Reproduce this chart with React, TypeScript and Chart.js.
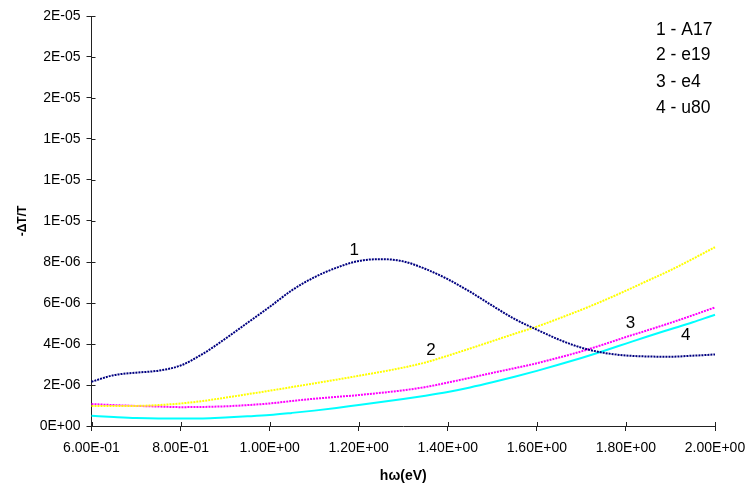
import React, { useEffect, useRef } from "react";
import { Chart, registerables } from "chart.js";

Chart.register(...registerables);

// ---- data ----
const xValues = [
  0.6, 0.65, 0.7, 0.75, 0.8, 0.85, 0.9, 0.95, 1.0, 1.05, 1.1, 1.15, 1.2, 1.25, 1.3,
  1.35, 1.4, 1.45, 1.5, 1.55, 1.6, 1.65, 1.7, 1.75, 1.8, 1.85, 1.9, 1.95, 2.0, 2.013,
];

const seriesA17 = [
  2.16e-6, 2.48e-6, 2.6e-6, 2.7e-6, 2.95e-6, 3.52e-6, 4.25e-6, 5.03e-6, 5.81e-6, 6.62e-6,
  7.25e-6, 7.72e-6, 8.05e-6, 8.14e-6, 8.03e-6, 7.66e-6, 7.16e-6, 6.55e-6, 5.87e-6, 5.22e-6,
  4.7e-6, 4.21e-6, 3.82e-6, 3.57e-6, 3.44e-6, 3.39e-6, 3.38e-6, 3.43e-6, 3.49e-6, 3.51e-6,
];

const seriesE19 = [
  0.97e-6, 0.97e-6, 0.98e-6, 1.02e-6, 1.1e-6, 1.22e-6, 1.38e-6, 1.55e-6, 1.72e-6, 1.9e-6,
  2.08e-6, 2.26e-6, 2.45e-6, 2.64e-6, 2.85e-6, 3.1e-6, 3.43e-6, 3.78e-6, 4.14e-6, 4.5e-6,
  4.85e-6, 5.25e-6, 5.67e-6, 6.12e-6, 6.6e-6, 7.1e-6, 7.6e-6, 8.15e-6, 8.72e-6, 8.85e-6,
];

const seriesE4 = [
  1.07e-6, 1.02e-6, 0.98e-6, 0.95e-6, 0.92e-6, 0.93e-6, 0.96e-6, 1.02e-6, 1.1e-6, 1.22e-6,
  1.33e-6, 1.42e-6, 1.51e-6, 1.62e-6, 1.74e-6, 1.9e-6, 2.12e-6, 2.35e-6, 2.59e-6, 2.82e-6,
  3.06e-6, 3.34e-6, 3.64e-6, 3.98e-6, 4.34e-6, 4.68e-6, 5.03e-6, 5.4e-6, 5.78e-6, 5.86e-6,
];

const seriesU80 = [
  0.5e-6, 0.44e-6, 0.39e-6, 0.37e-6, 0.37e-6, 0.37e-6, 0.41e-6, 0.47e-6, 0.54e-6, 0.64e-6,
  0.75e-6, 0.88e-6, 1.03e-6, 1.17e-6, 1.32e-6, 1.48e-6, 1.66e-6, 1.88e-6, 2.13e-6, 2.4e-6,
  2.69e-6, 3.0e-6, 3.32e-6, 3.66e-6, 4.02e-6, 4.38e-6, 4.72e-6, 5.06e-6, 5.43e-6, 5.52e-6,
];

const seriesNames = ["1 - A17", "2 - e19", "3 - e4", "4 - u80"];

const xTickLabels = [
  "6.00E-01", "8.00E-01", "1.00E+00", "1.20E+00", "1.40E+00", "1.60E+00", "1.80E+00", "2.00E+00",
];
const yTickLabels = [
  "0E+00", "2E-06", "4E-06", "6E-06", "8E-06", "1E-05", "1E-05", "1E-05", "2E-05", "2E-05", "2E-05",
];

const curveLabelText = ["1", "2", "3", "4"];
const curveLabelX = [1.19, 1.362, 1.81, 1.934];
const curveLabelY = [8.55e-6, 3.7e-6, 5.0e-6, 4.43e-6];

const X_MIN = 0.6;
const X_MAX = 2.0;
const X_STEP = 0.2;
const Y_MIN = 0;
const Y_MAX = 2e-5;
const Y_STEP = 2e-6;

const toPoints = (ys: number[]) => ys.map((y, i) => ({ x: xValues[i], y }));

const FONT = "'Liberation Sans', Arial, sans-serif";

const decorPlugin = {
  id: "decor",
  afterDraw(chart: any) {
    const ctx = chart.ctx;
    const xs = chart.scales.x;
    const ys = chart.scales.y;
    const area = chart.chartArea;
    ctx.save();
    // inner parts of cross ticks
    ctx.strokeStyle = "#222";
    ctx.lineWidth = 1;
    ctx.beginPath();
    xs.ticks.forEach((t: any) => {
      const px = Math.round(xs.getPixelForValue(t.value)) + 0.5;
      ctx.moveTo(px, area.bottom);
      ctx.lineTo(px, area.bottom - 4);
    });
    ys.ticks.forEach((t: any) => {
      const py = Math.round(ys.getPixelForValue(t.value)) + 0.5;
      ctx.moveTo(area.left, py);
      ctx.lineTo(area.left + 4, py);
    });
    ctx.stroke();

    // curve number labels
    ctx.fillStyle = "#000";
    ctx.font = `17px ${FONT}`;
    ctx.textAlign = "center";
    ctx.textBaseline = "middle";
    curveLabelText.forEach((txt, i) => {
      ctx.fillText(txt, xs.getPixelForValue(curveLabelX[i]), ys.getPixelForValue(curveLabelY[i]));
    });

    // legend text (top right)
    ctx.textAlign = "left";
    ctx.font = `17.5px ${FONT}`;
    const rows = [30, 55, 82, 108];
    chart.data.datasets.forEach((ds: any, i: number) => {
      ctx.fillText(ds.label, 656, rows[i]);
    });
    ctx.restore();
  },
};

export default function App() {
  const canvasRef = useRef<HTMLCanvasElement | null>(null);

  useEffect(() => {
    if (!canvasRef.current) return;
    const common = {
      pointRadius: 0,
      borderWidth: 2,
      cubicInterpolationMode: "monotone" as const,
      clip: false as any,
      fill: false,
    };
    const chart = new Chart(canvasRef.current, {
      type: "line",
      data: {
        datasets: [
          { ...common, label: seriesNames[0], data: toPoints(seriesA17), borderColor: "#000080", borderDash: [2, 1] },
          { ...common, label: seriesNames[1], data: toPoints(seriesE19), borderColor: "#FFFF00", borderDash: [2, 1] },
          { ...common, label: seriesNames[2], data: toPoints(seriesE4), borderColor: "#FF00FF", borderDash: [2, 1] },
          { ...common, label: seriesNames[3], data: toPoints(seriesU80), borderColor: "#00FFFF" },
        ],
      },
      options: {
        responsive: false,
        animation: false,
        layout: { padding: { top: 16, right: 32, left: 0, bottom: 0 } },
        plugins: { legend: { display: false }, tooltip: { enabled: false } },
        scales: {
          x: {
            type: "linear",
            min: X_MIN,
            max: X_MAX,
            afterFit: (s: any) => {
              s.height = 60;
              s.paddingLeft = 0;
              s.paddingRight = 0;
            },
            ticks: {
              stepSize: X_STEP,
              autoSkip: false,
              maxRotation: 0,
              color: "#000",
              padding: 9,
              font: { family: FONT, size: 14 },
              callback: (v: any) => xTickLabels[Math.round((Number(v) - X_MIN) / X_STEP)] ?? "",
            },
            grid: { display: true, drawOnChartArea: false, drawTicks: true, tickLength: 5, color: "#222" },
            border: { display: true, color: "#222", width: 1 },
            title: {
              display: true,
              text: "hω(eV)",
              color: "#000",
              font: { family: FONT, size: 14, weight: "bold" },
              padding: { top: 0, bottom: 1 },
            },
          },
          y: {
            type: "linear",
            min: Y_MIN,
            max: Y_MAX,
            afterFit: (s: any) => {
              s.width = 91.5;
              s.paddingTop = 0;
              s.paddingBottom = 0;
            },
            ticks: {
              stepSize: Y_STEP,
              autoSkip: false,
              color: "#000",
              padding: 6,
              font: { family: FONT, size: 14 },
              callback: (v: any) => yTickLabels[Math.round((Number(v) - Y_MIN) / Y_STEP)] ?? "",
            },
            grid: { display: true, drawOnChartArea: false, drawTicks: true, tickLength: 5, color: "#222" },
            border: { display: true, color: "#222", width: 1 },
            title: {
              display: true,
              text: "-ΔT/T",
              color: "#000",
              font: { family: FONT, size: 12, weight: "bold" },
              padding: { top: 15, bottom: 0 },
            },
          },
        },
      },
      plugins: [decorPlugin],
    });
    return () => chart.destroy();
  }, []);

  return (
    <div style={{ position: "absolute", left: 0, top: 0, width: 747, height: 486, background: "#fff" }}>
      <canvas ref={canvasRef} width={747} height={486} />
    </div>
  );
}
